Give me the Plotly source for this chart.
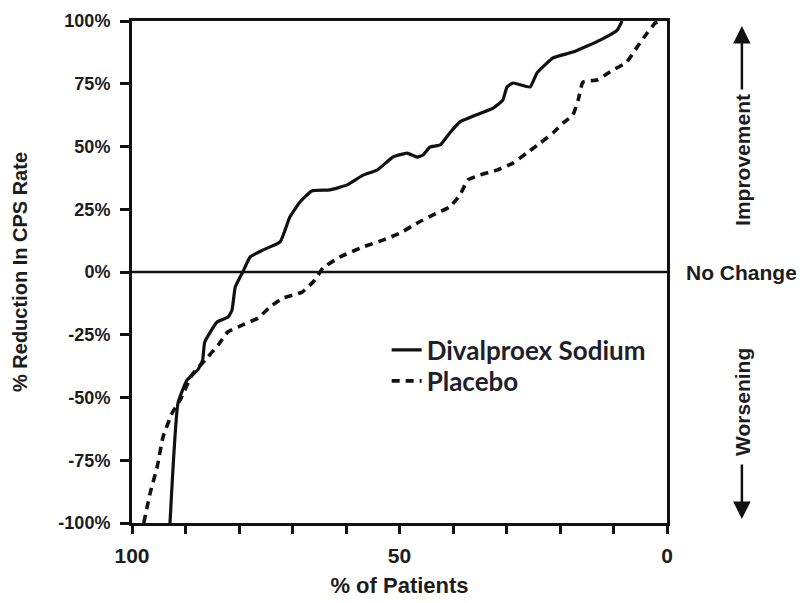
import plotly.graph_objects as go

# Divalproex Sodium (solid)
div_x = [92.9, 91.4, 89.7, 87.7, 86.8, 86.4, 84.1, 82.0, 81.3, 80.7, 79.3, 77.9, 75.5, 72.3,
         70.5, 68.6, 66.4, 63.0, 59.8, 56.8, 54.2, 51.2, 48.6, 46.7, 45.6, 44.3, 42.4, 40.6,
         38.7, 32.5, 30.7, 29.9, 28.8, 25.6, 24.3, 21.3, 17.6, 12.5, 9.3, 8.4]
div_y = [-100, -52.2, -43.0, -39.0, -35.1, -27.9, -19.9, -17.9, -15.1, -6.0, 0, 6.0, 8.8, 12.0,
         21.9, 27.9, 32.3, 32.7, 34.7, 38.6, 40.6, 45.8, 47.4, 45.8, 46.6, 49.8, 50.6, 55.4,
         59.8, 65.3, 68.5, 73.7, 75.3, 73.7, 79.3, 85.3, 87.6, 92.4, 96.4, 100]

# Placebo (dashed)
pla_x = [97.8, 96.6, 95.3, 94.2, 92.5, 91.0, 88.8, 86.0, 83.9, 82.1, 79.3, 76.4, 74.2, 71.8,
         68.2, 65.8, 64.3, 61.1, 56.8, 53.1, 49.9, 46.7, 43.0, 40.6, 38.7, 37.2, 35.0, 31.8,
         28.8, 26.2, 23.7, 21.3, 19.4, 17.6, 16.6, 15.7, 13.1, 10.7, 7.5, 5.6, 3.7, 2.2, 1.3]
pla_y = [-100, -88, -77.7, -65.7, -56.2, -51.0, -41.0, -34.3, -29.1, -23.9, -21.1, -18.3, -13.9,
         -10.4, -8.0, -3.2, 1.6, 6.0, 10.0, 12.7, 15.5, 19.5, 23.5, 25.9, 30.7, 36.7, 38.6, 40.6,
         43.4, 47.4, 51.4, 55.4, 59.4, 62.5, 68.5, 75.7, 76.5, 79.7, 83.7, 89.6, 95.2, 99.2, 100]

x_ticks = list(range(0, 101, 10))
x_labels = ["0" if v == 0 else "50" if v == 50 else "100" if v == 100 else "" for v in x_ticks]
y_ticks = [-100, -75, -50, -25, 0, 25, 50, 75, 100]
y_labels = [f"{v}%" for v in y_ticks]

SANS = "Liberation Sans, Arial, sans-serif"
INK = "#1c1c1c"

fig = go.Figure()
fig.add_trace(go.Scatter(x=div_x, y=div_y, mode="lines", name="Divalproex Sodium",
                         legend="legend",
                         line=dict(color="#111111", width=3.2, shape="spline", smoothing=0.4)))
fig.add_trace(go.Scatter(x=pla_x, y=pla_y, mode="lines", name="Placebo",
                         legend="legend2",
                         line=dict(color="#111111", width=3.6, dash="8px,6px",
                                   shape="spline", smoothing=0.4)))

fig.add_shape(type="line", xref="x", yref="y", x0=100, x1=0, y0=0, y1=0,
              line=dict(color="#111111", width=2.5))

leg_font = dict(family="Lato, Open Sans, sans-serif", size=26, color="#1e1e2c", weight="bold")

fig.update_layout(
    width=804, height=603,
    margin=dict(l=124, r=145, t=13, b=88, autoexpand=False),
    paper_bgcolor="white", plot_bgcolor="white",
    showlegend=True,
    legend=dict(x=0.476, y=0.3446, xanchor="left", yanchor="middle", font=leg_font,
                bgcolor="rgba(0,0,0,0)"),
    legend2=dict(x=0.476, y=0.2829, xanchor="left", yanchor="middle", font=leg_font,
                 bgcolor="rgba(0,0,0,0)"),
    xaxis=dict(range=[100, 0], tickmode="array", tickvals=x_ticks, ticktext=x_labels,
               ticks="outside", ticklen=8, tickwidth=2.5, tickcolor="#111111",
               showline=True, linewidth=3, linecolor="#111111", mirror=True,
               showgrid=False, zeroline=False, automargin=False, ticklabelstandoff=4,
               tickfont=dict(family=SANS, size=21, color=INK, weight="bold"),
               title=dict(text="% of Patients", standoff=12,
                          font=dict(family=SANS, size=22, color=INK, weight="bold"))),
    yaxis=dict(range=[-100, 100], tickmode="array", tickvals=y_ticks, ticktext=y_labels,
               ticks="outside", ticklen=9, tickwidth=2.5, tickcolor="#111111",
               showline=True, linewidth=3, linecolor="#111111", mirror=True,
               showgrid=False, zeroline=False, automargin=False, ticklabelstandoff=6,
               tickfont=dict(family=SANS, size=18, color=INK, weight="bold"),
               title=dict(text="% Reduction In CPS Rate", standoff=26,
                          font=dict(family=SANS, size=20, color=INK, weight="bold"))),
)

side_font = dict(family=SANS, size=21, color=INK, weight="bold")
fig.add_annotation(xref="paper", yref="paper", x=1.14, y=(523 - 272) / 502,
                   text="No Change", showarrow=False, font=side_font,
                   xanchor="center", yanchor="middle")
fig.add_annotation(xref="paper", yref="paper", x=1.14, y=(523 - 160) / 502,
                   text="Improvement", showarrow=False, font=side_font, textangle=-90,
                   xanchor="center", yanchor="middle")
fig.add_annotation(xref="paper", yref="paper", x=1.14, y=(523 - 402) / 502,
                   text="Worsening", showarrow=False, font=side_font, textangle=-90,
                   xanchor="center", yanchor="middle")
fig.add_annotation(xref="paper", yref="paper", x=1.14, y=(523 - 26) / 502, ax=0, ay=65,
                   text="", showarrow=True, arrowhead=2, arrowsize=1.4, arrowwidth=2.5,
                   arrowcolor="#111111")
fig.add_annotation(xref="paper", yref="paper", x=1.14, y=(523 - 519) / 502, ax=0, ay=-56,
                   text="", showarrow=True, arrowhead=2, arrowsize=1.4, arrowwidth=2.5,
                   arrowcolor="#111111")

fig.write_html("out.html")
